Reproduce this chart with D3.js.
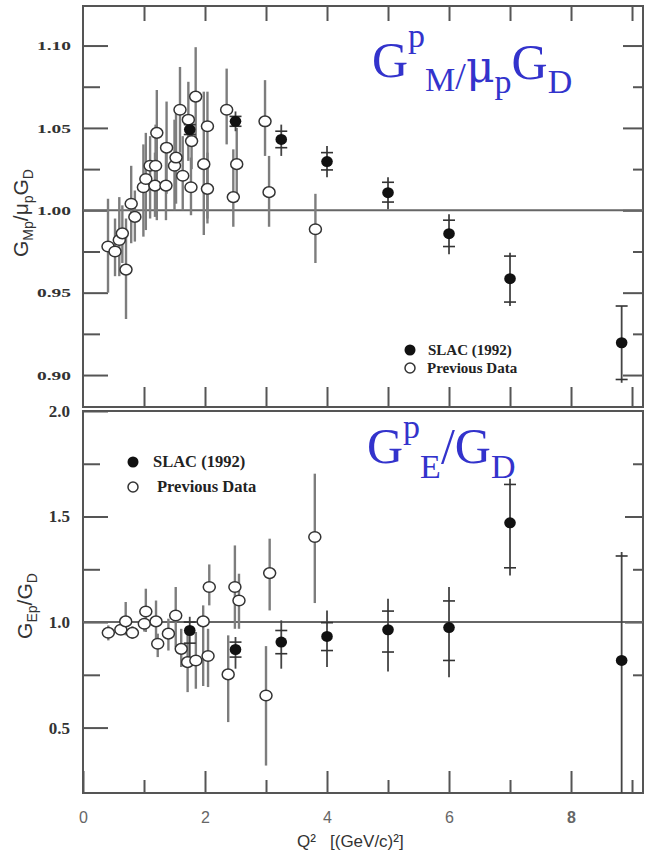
<!DOCTYPE html>
<html><head><meta charset="utf-8">
<script src="https://cdn.jsdelivr.net/npm/d3@7"></script>
<style>body{margin:0;background:#fff} svg{display:block}</style>
</head><body><svg id="c" width="646" height="855"></svg>
<script>
// ---------- DATA ----------
// Top panel: G_M^p / mu_p G_D
const prevQ2_M = [0.41,0.525,0.595,0.645,0.705,0.79,0.85,0.99,1.03,1.10,1.19,1.21,1.18,1.36,1.37,1.50,1.525,1.59,1.635,1.727,1.77,1.78,1.847,1.98,2.04,2.04,2.355,2.464,2.52,2.984,3.05,3.81];
const prevGM    = [0.978,0.975,0.982,0.986,0.964,1.004,0.996,1.014,1.019,1.027,1.027,1.047,1.015,1.015,1.038,1.027,1.032,1.061,1.021,1.055,1.014,1.042,1.069,1.028,1.051,1.013,1.061,1.008,1.028,1.054,1.011,0.9885];
const prevGM_lo = [0.950,0.960,0.960,0.968,0.934,0.980,0.981,0.984,0.988,0.995,1.000,0.994,0.996,0.994,1.010,1.000,1.004,1.035,1.000,1.030,0.997,1.025,1.040,0.985,0.995,0.992,1.040,0.990,1.005,1.033,0.990,0.968];
const prevGM_hi = [1.007,0.995,1.008,1.003,0.995,1.027,1.012,1.040,1.047,1.045,1.052,1.073,1.035,1.037,1.066,1.055,1.060,1.087,1.045,1.078,1.032,1.057,1.099,1.072,1.072,1.035,1.086,1.037,1.050,1.079,1.033,1.010];

const slacQ2       = [1.75,2.5,3.25,4.0,5.0,6.0,7.0,8.83];
const slacGM       = [1.049,1.054,1.043,1.0296,1.0107,0.9858,0.9585,0.9196];
const slacGM_statLo= [1.046,1.051,1.038,1.0245,1.005,0.978,0.9443,0.8973];
const slacGM_statHi= [1.052,1.057,1.048,1.035,1.017,0.994,0.9722,0.9419];
const slacGM_totLo = [1.044,1.048,1.033,1.020,1.0006,0.9733,0.9419,0.8953];
const slacGM_totHi = [1.054,1.060,1.052,1.039,1.020,0.9976,0.9743,0.9419];

// Bottom panel: G_E^p / G_D
const prevQ2_E = [0.415,0.62,0.70,0.81,1.03,1.005,1.197,1.225,1.40,1.52,1.61,1.715,1.85,1.97,2.07,2.05,2.38,2.49,2.557,3.0,3.06,3.80];
const prevGE    = [0.949,0.9635,1.003,0.949,1.05,0.992,1.003,0.897,0.945,1.031,0.873,0.81,0.818,1.003,1.166,0.839,0.752,1.166,1.102,0.652,1.232,1.403];
const prevGE_lo = [0.913,0.94,0.937,0.92,0.953,0.955,0.90,0.834,0.865,0.88,0.787,0.668,0.684,0.697,1.079,0.692,0.526,0.968,0.968,0.32,1.055,1.09];
const prevGE_hi = [0.984,0.99,1.095,0.98,1.158,1.02,1.102,0.945,1.016,1.166,0.968,0.968,0.953,1.079,1.273,0.968,0.937,1.363,1.229,0.886,1.395,1.703];

const slacGE       = [0.96,0.87,0.905,0.932,0.9635,0.974,1.47,0.818];
const slacGE_statLo= [0.90,0.834,0.85,0.865,0.858,0.818,1.257,0.12];
const slacGE_statHi= [1.00,0.905,0.96,0.997,1.052,1.10,1.652,1.313];
const slacGE_totLo = [0.82,0.779,0.779,0.787,0.766,0.739,1.221,0.0];
const slacGE_totHi = [1.025,0.929,1.008,1.055,1.11,1.166,1.679,1.332];

const gmMajor = [0.90,0.95,1.00,1.05,1.10];
const gmMinor = [0.925,0.975,1.025,1.075];
const geMajor = [0.5,1.0,1.5,2.0];
const geMinor = [0.75,1.25,1.75];
const geRightMajor = [1.0,1.5];
const xEven = [0,2,4,6,8];
const xOdd  = [1,3,5,7,9];
const xAll  = [1,2,3,4,5,6,7,8,9];

// ---------- LAYOUT ----------
const svg = d3.select('#c');
const X0 = 83, X1 = 643;
const T0 = 6, T1 = 407, B0 = 411, B1 = 793;
const x  = d3.scaleLinear().domain([0, 9.18]).range([X0, X1]);
const yM = d3.scaleLinear().domain([0.8806, 1.124]).range([T1, T0]);
const yE = d3.scaleLinear().domain([0.19, 2.0]).range([B1, B0]);

const frameCol = '#555', errCol = '#7d7d7d';

const defs = svg.append('defs');
defs.append('clipPath').attr('id','clipT').append('rect').attr('x',X0).attr('y',T0).attr('width',X1-X0).attr('height',T1-T0);
defs.append('clipPath').attr('id','clipB').append('rect').attr('x',X0).attr('y',B0).attr('width',X1-X0).attr('height',B1-B0);

function axisG(axis, tx, ty){
  const g = svg.append('g').attr('transform',`translate(${tx},${ty})`).call(axis);
  g.select('.domain').remove();
  g.selectAll('line').attr('stroke',frameCol).attr('stroke-width',2);
  return g;
}

// --- top panel axes ---
const tl = axisG(d3.axisLeft(yM).tickValues(gmMajor).tickSize(-25).tickPadding(12).tickFormat(d3.format('.2f')), X0, 0);
tl.selectAll('text').attr('font-family','Liberation Serif').attr('font-weight','bold').attr('font-size',13).attr('fill','#333')
  .attr('textLength',34).attr('lengthAdjust','spacingAndGlyphs');
axisG(d3.axisLeft(yM).tickValues(gmMinor).tickSize(-17).tickFormat(''), X0, 0);
axisG(d3.axisRight(yM).tickValues(gmMajor).tickSize(-20).tickFormat(''), X1, 0);
axisG(d3.axisRight(yM).tickValues(gmMinor).tickSize(-10).tickFormat(''), X1, 0);
axisG(d3.axisTop(x).tickValues(xAll).tickSize(-15).tickFormat(''), 0, T0);
axisG(d3.axisBottom(x).tickValues(xAll).tickSize(-20).tickFormat(''), 0, T1);

// --- bottom panel axes ---
const bl = axisG(d3.axisLeft(yE).tickValues(geMajor).tickSize(-25).tickPadding(13).tickFormat(d3.format('.1f')), X0, 0);
bl.selectAll('text').attr('font-family','Liberation Serif').attr('font-weight','bold').attr('font-size',17).attr('fill','#333');
axisG(d3.axisLeft(yE).tickValues(geMinor).tickSize(-17).tickFormat(''), X0, 0);
axisG(d3.axisRight(yE).tickValues(geRightMajor).tickSize(-18).tickFormat(''), X1, 0);
axisG(d3.axisRight(yE).tickValues(geMinor).tickSize(-10).tickFormat(''), X1, 0);
const bx = axisG(d3.axisBottom(x).tickValues(xEven).tickSize(-22).tickPadding(19).tickFormat(d3.format('d')), 0, B1);
bx.selectAll('text').attr('font-family','Liberation Sans').attr('font-size',16).attr('fill','#666')
  .attr('font-weight', d => d === 8 ? 'bold' : 'normal');
axisG(d3.axisBottom(x).tickValues(xOdd).tickSize(-13).tickFormat(''), 0, B1);

// frames
svg.append('rect').attr('x',X0).attr('y',T0).attr('width',X1-X0).attr('height',T1-T0).attr('fill','none').attr('stroke',frameCol).attr('stroke-width',2);
svg.append('rect').attr('x',X0).attr('y',B0).attr('width',X1-X0).attr('height',B1-B0).attr('fill','none').attr('stroke',frameCol).attr('stroke-width',2);

// reference lines at 1
svg.append('line').attr('x1',X0).attr('x2',X1).attr('y1',yM(1)).attr('y2',yM(1)).attr('stroke','#666').attr('stroke-width',2);
svg.append('line').attr('x1',X0).attr('x2',X1).attr('y1',yE(1)).attr('y2',yE(1)).attr('stroke','#666').attr('stroke-width',2);

// ---------- DATA MARKS ----------
function drawPanel(clip, y, pq, pv, plo, phi, sv, sslo, sshi, stlo, sthi){
  const g = svg.append('g').attr('clip-path',`url(#${clip})`);
  const prev = pq.map((q,i)=>({q, v:pv[i], lo:plo[i], hi:phi[i]}));
  const slac = slacQ2.map((q,i)=>({q, v:sv[i], slo:sslo[i], shi:sshi[i], tlo:stlo[i], thi:sthi[i]}));
  g.selectAll('.pe').data(prev).join('line')
    .attr('x1',d=>x(d.q)).attr('x2',d=>x(d.q)).attr('y1',d=>y(d.lo)).attr('y2',d=>y(d.hi))
    .attr('stroke',errCol).attr('stroke-width',2.4);
  g.selectAll('.se').data(slac).join('line')
    .attr('x1',d=>x(d.q)).attr('x2',d=>x(d.q)).attr('y1',d=>y(d.tlo)).attr('y2',d=>y(d.thi))
    .attr('stroke','#444').attr('stroke-width',1.8);
  ['slo','shi'].forEach(k=>{
    g.selectAll('.sc'+k).data(slac).join('line')
      .attr('x1',d=>x(d.q)-6).attr('x2',d=>x(d.q)+6).attr('y1',d=>y(d[k])).attr('y2',d=>y(d[k]))
      .attr('stroke','#333').attr('stroke-width',1.6);
  });
  g.selectAll('.pc').data(prev).join('ellipse')
    .attr('cx',d=>x(d.q)).attr('cy',d=>y(d.v)).attr('rx',6).attr('ry',5.3)
    .attr('fill','#fff').attr('stroke','#333').attr('stroke-width',1.5);
  g.selectAll('.sp').data(slac).join('ellipse')
    .attr('cx',d=>x(d.q)).attr('cy',d=>y(d.v)).attr('rx',5.8).attr('ry',5.5)
    .attr('fill','#111');
}
drawPanel('clipT', yM, prevQ2_M, prevGM, prevGM_lo, prevGM_hi, slacGM, slacGM_statLo, slacGM_statHi, slacGM_totLo, slacGM_totHi);
drawPanel('clipB', yE, prevQ2_E, prevGE, prevGE_lo, prevGE_hi, slacGE, slacGE_statLo, slacGE_statHi, slacGE_totLo, slacGE_totHi);

// ---------- LEGENDS ----------
function legend(cx, cy1, cy2, tx1, tx2, fs){
  svg.append('circle').attr('cx',cx).attr('cy',cy1).attr('r',5.5).attr('fill','#111');
  svg.append('circle').attr('cx',cx).attr('cy',cy2).attr('r',5).attr('fill','#fff').attr('stroke','#333').attr('stroke-width',1.5);
  const f = s => s.attr('font-family','Liberation Serif').attr('font-weight','bold').attr('font-size',fs).attr('fill','#222');
  f(svg.append('text').attr('x',tx1).attr('y',cy1+5).text('SLAC (1992)'));
  f(svg.append('text').attr('x',tx2).attr('y',cy2+5).text('Previous Data'));
}
legend(410, 350, 368, 428, 427, 15);
legend(133, 462, 487, 153, 157, 16.5);

// ---------- TITLES ----------
const blue = '#3333cc';
const t1 = svg.append('text').attr('x',372).attr('y',77).attr('font-family','Liberation Serif').attr('font-size',50).attr('fill',blue);
t1.append('tspan').text('G');
t1.append('tspan').attr('dy',-30).attr('font-size',34).text('p');
t1.append('tspan').attr('dy',44).attr('font-size',34).text('M');
t1.append('tspan').attr('dy',-2).attr('font-size',38).text('/');
t1.append('tspan').attr('dy',-7).attr('font-family','DejaVu Serif').attr('font-size',44).text('μ');
t1.append('tspan').attr('dy',11).attr('font-size',34).text('p');
t1.append('tspan').attr('dy',-14).text('G');
t1.append('tspan').attr('dy',14).attr('font-size',34).text('D');

const t2 = svg.append('text').attr('x',367).attr('y',463).attr('font-family','Liberation Serif').attr('font-size',50).attr('fill',blue);
t2.append('tspan').text('G');
t2.append('tspan').attr('dy',-25).attr('font-size',34).text('p');
t2.append('tspan').attr('dy',40).attr('font-size',34).text('E');
t2.append('tspan').attr('dy',-15).text('/G');
t2.append('tspan').attr('dy',15).attr('font-size',34).text('D');

// axis titles
const ya = svg.append('text').attr('transform','translate(28,213) rotate(-90)').attr('text-anchor','middle')
  .attr('font-family','Liberation Sans').attr('font-size',21).attr('fill','#333');
ya.append('tspan').text('G');
ya.append('tspan').attr('dy',5).attr('font-size',14).text('Mp');
ya.append('tspan').attr('dy',-5).text('/μ');
ya.append('tspan').attr('dy',5).attr('font-size',14).text('p');
ya.append('tspan').attr('dy',-5).text('G');
ya.append('tspan').attr('dy',5).attr('font-size',14).text('D');

const yb = svg.append('text').attr('transform','translate(32,606) rotate(-90)').attr('text-anchor','middle')
  .attr('font-family','Liberation Sans').attr('font-size',21).attr('fill','#333');
yb.append('tspan').text('G');
yb.append('tspan').attr('dy',5).attr('font-size',14).text('Ep');
yb.append('tspan').attr('dy',-5).text('/G');
yb.append('tspan').attr('dy',5).attr('font-size',14).text('D');

const xl = svg.append('text').attr('y',847).attr('font-family','Liberation Sans').attr('font-size',17).attr('fill','#333');
xl.append('tspan').attr('x',297).text('Q²');
xl.append('tspan').attr('x',330).text('[(GeV/c)²]');
</script></body></html>
